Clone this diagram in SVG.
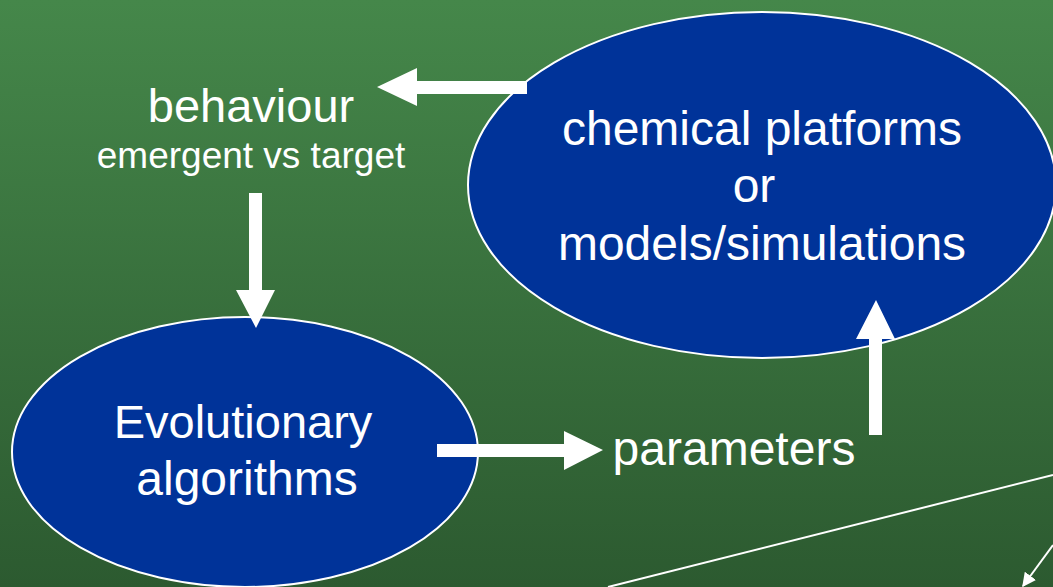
<svg xmlns="http://www.w3.org/2000/svg" width="1053" height="587" viewBox="0 0 1053 587">
<defs>
<linearGradient id="bg" x1="0" y1="0" x2="0" y2="1">
<stop offset="0" stop-color="#45874a"/>
<stop offset="1" stop-color="#2c5a30"/>
</linearGradient>
<marker id="thin" viewBox="0 0 10 10" refX="9" refY="5" markerWidth="14" markerHeight="14" orient="auto" markerUnits="userSpaceOnUse">
<path d="M0,0 L10,5 L0,10 z" fill="#fff"/>
</marker>
<style>
.node{fill:#003399;stroke:#fff;stroke-width:2}
.t{font-family:"Liberation Sans",Arial,sans-serif;fill:#fff;text-anchor:middle}
.big{font-size:48px}
.small{font-size:37px}
.arr{fill:#fff}
</style>
</defs>
<rect width="1053" height="587" fill="url(#bg)"/>
<g id="chem">
<ellipse class="node" cx="762" cy="185" rx="294" ry="173"/>
<text class="t big" x="762" y="145">chemical platforms</text>
<text class="t big" x="754" y="202">or</text>
<text class="t big" x="762" y="260">models/simulations</text>
</g>
<g id="evo">
<ellipse class="node" cx="245" cy="452" rx="233" ry="135"/>
<text class="t big" x="243" y="438" style="font-size:47px">Evolutionary</text>
<text class="t big" x="247" y="495">algorithms</text>
</g>
<g id="behaviour">
<text class="t big" x="251" y="122" style="font-size:47px">behaviour</text>
<text class="t small" x="251" y="168">emergent vs target</text>
</g>
<g id="parameters">
<text class="t big" x="734" y="465">parameters</text>
</g>
<g id="connectors">
<polygon class="arr" points="527,81 417,81 417,68 377,87 417,106 417,94 527,94"/>
<polygon class="arr" points="249,193 262,193 262,290 275,290 256,328 236,290 249,290"/>
<polygon class="arr" points="437,444 564,444 564,431 603,450 564,470 564,457 437,457"/>
<polygon class="arr" points="869,435 882,435 882,339 895,339 876,300 856,339 869,339"/>
<line x1="1053" y1="475" x2="608" y2="587" stroke="#fff" stroke-width="2"/>
<line x1="1053" y1="545" x2="1023" y2="586" stroke="#fff" stroke-width="2" marker-end="url(#thin)"/>
</g>
</svg>
